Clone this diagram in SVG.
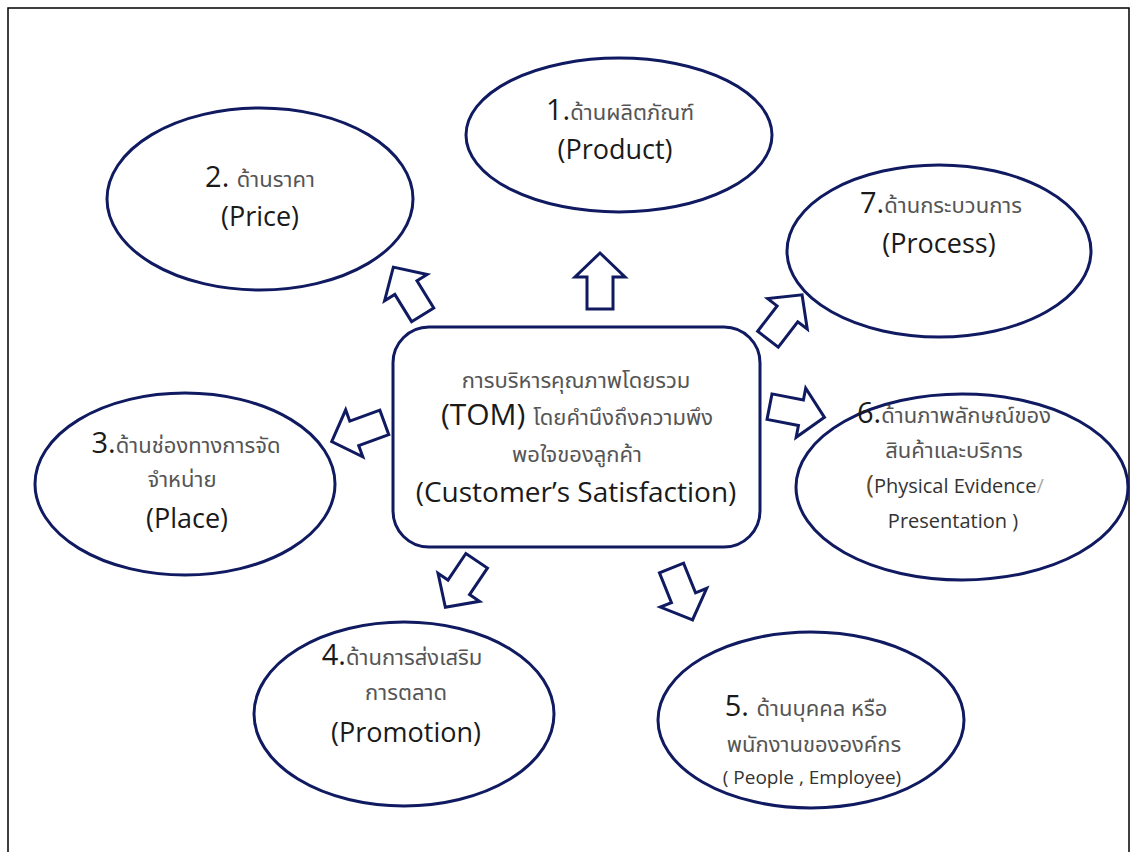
<svg xmlns="http://www.w3.org/2000/svg" width="1135" height="852" viewBox="0 0 1135 852">
<style>
.node{fill:#fff;stroke:#101a60;stroke-width:3}
.arr{fill:#fff;stroke:#101a60;stroke-width:3;stroke-linejoin:miter}
text{font-family:"Open Sans","Noto Sans","Noto Sans Thai","Liberation Sans",sans-serif;text-anchor:middle;fill:#222}
.en{font-size:27px;fill:#1a1a1a}
.th{font-size:22px;fill:#555}
.num{font-size:29px;fill:#1a1a1a}
</style>
<defs>
<path id="blk" d="M0,-28 L25,-4 L13,-4 L13,28 L-13,28 L-13,-4 L-25,-4 Z"/>
</defs>
<rect x="0" y="0" width="1135" height="852" fill="#fff"/>
<rect x="8" y="8" width="1121" height="850" fill="none" stroke="#000" stroke-width="1.5"/>
<g id="connectors">
<use href="#blk" class="arr" transform="translate(600,281)"/>
<use href="#blk" class="arr" transform="translate(408,291) rotate(-31.6)"/>
<use href="#blk" class="arr" transform="translate(358,432) rotate(-110)"/>
<use href="#blk" class="arr" transform="translate(785,317) rotate(37.5)"/>
<use href="#blk" class="arr" transform="translate(797,412) rotate(101)"/>
<use href="#blk" class="arr" transform="translate(461,584) rotate(-146)"/>
<use href="#blk" class="arr" transform="translate(682,594) rotate(158)"/>
</g>
<g id="center">
<rect class="node" x="393" y="327" width="367" height="220" rx="36"/>
<text x="576" y="388" class="th">การบริหารคุณภาพโดยรวม</text>
<text x="577" y="425"><tspan style="font-size:30px;fill:#1a1a1a">(TOM) </tspan><tspan class="th">โดยคำนึงถึงความพึง</tspan></text>
<text x="577" y="462" class="th">พอใจของลูกค้า</text>
<text x="576" y="502" class="en" style="font-size:28px">(Customer’s  Satisfaction)</text>
</g>
<g id="product">
<ellipse class="node" cx="619" cy="135" rx="153" ry="77"/>
<text x="620" y="120"><tspan class="num">1.</tspan><tspan class="th">ด้านผลิตภัณฑ์</tspan></text>
<text x="615" y="159" class="en">(Product)</text>
</g>
<g id="price">
<ellipse class="node" cx="260" cy="199" rx="153" ry="91"/>
<text x="260" y="187"><tspan class="num">2. </tspan><tspan class="th">ด้านราคา</tspan></text>
<text x="260" y="226" class="en">(Price)</text>
</g>
<g id="process">
<ellipse class="node" cx="939" cy="251" rx="152" ry="86"/>
<text x="941" y="213"><tspan class="num">7.</tspan><tspan class="th">ด้านกระบวนการ</tspan></text>
<text x="939" y="253" class="en">(Process)</text>
</g>
<g id="physical">
<ellipse class="node" cx="962" cy="487" rx="166" ry="93"/>
<text x="954" y="423"><tspan class="num">6.</tspan><tspan class="th">ด้านภาพลักษณ์ของ</tspan></text>
<text x="954" y="458" class="th">สินค้าและบริการ</text>
<text x="955" y="493" style="font-size:20px;fill:#333"><tspan style="font-size:26px;fill:#6a4a20">(</tspan>Physical Evidence<tspan style="fill:#aaa">/</tspan></text>
<text x="953" y="528" style="font-size:20px;fill:#333">Presentation )</text>
</g>
<g id="place">
<ellipse class="node" cx="185" cy="484" rx="150" ry="91"/>
<text x="186" y="453"><tspan class="num">3.</tspan><tspan class="th">ด้านช่องทางการจัด</tspan></text>
<text x="182" y="487" class="th">จำหน่าย</text>
<text x="187" y="528" class="en">(Place)</text>
</g>
<g id="promotion">
<ellipse class="node" cx="404" cy="714" rx="150" ry="92"/>
<text x="402" y="665"><tspan class="num">4.</tspan><tspan class="th">ด้านการส่งเสริม</tspan></text>
<text x="406" y="700" class="th">การตลาด</text>
<text x="406" y="742" class="en">(Promotion)</text>
</g>
<g id="people">
<ellipse class="node" cx="811" cy="720" rx="153" ry="88"/>
<text x="806" y="716"><tspan class="num">5. </tspan><tspan class="th">ด้านบุคคล หรือ</tspan></text>
<text x="814" y="752" class="th">พนักงานขององค์กร</text>
<text x="812" y="784" style="font-size:19px;fill:#333">( People , Employee)</text>
</g>
</svg>
